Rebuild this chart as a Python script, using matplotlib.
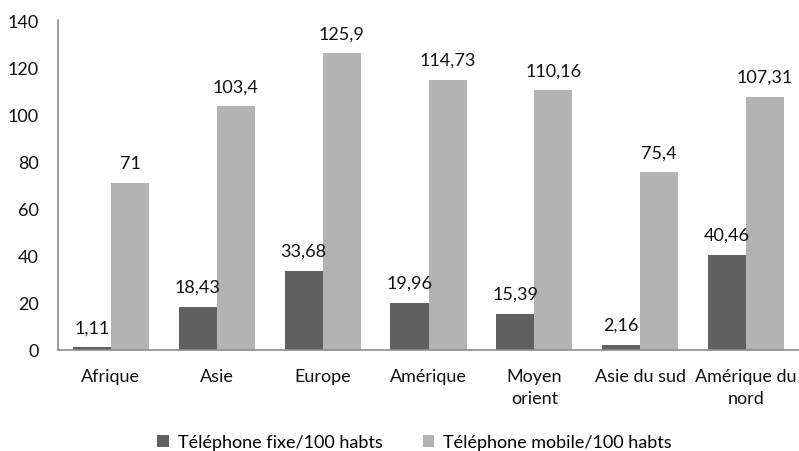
import matplotlib
matplotlib.use("Agg")
import matplotlib.pyplot as plt
import numpy as np

categories = ["Afrique", "Asie", "Europe", "Amérique", "Moyen\norient", "Asie du sud", "Amérique du\nnord"]
fixe = [1.11, 18.43, 33.68, 19.96, 15.39, 2.16, 40.46]
mobile = [71, 103.4, 125.9, 114.73, 110.16, 75.4, 107.31]
series_names = ["Téléphone fixe/100 habts", "Téléphone mobile/100 habts"]
yticks = [0, 20, 40, 60, 80, 100, 120, 140]

def fmt(v):
    s = f"{v:.2f}".rstrip("0").rstrip(".")
    return s.replace(".", ",")

plt.rcParams['font.family'] = ['Lato', 'DejaVu Sans']
FS = 13

fig = plt.figure(figsize=(7.99, 4.52), dpi=100)
ax = fig.add_axes([0.0726, 0.2235, 0.9274, 0.730])

x = np.arange(len(categories))
w = 0.36
c_dark = "#606060"
c_light = "#b3b3b3"
b1 = ax.bar(x - w/2, fixe, w, color=c_dark, label=series_names[0])
b2 = ax.bar(x + w/2, mobile, w, color=c_light, label=series_names[1])

for xi, v in zip(x - w/2, fixe):
    ax.text(xi, v + 8.5, fmt(v), ha="center", va="center", fontsize=FS, color="#111111")
for xi, v in zip(x + w/2, mobile):
    ax.text(xi, v + 8.5, fmt(v), ha="center", va="center", fontsize=FS, color="#111111")

ax.set_xlim(-0.5, len(categories) - 0.5)
ax.set_ylim(0, 140)
ax.set_yticks(yticks)
ax.set_yticklabels([str(t) for t in yticks], fontsize=FS)
ax.set_xticks(x)
ax.set_xticklabels(categories, fontsize=FS, linespacing=1.45)
ax.tick_params(axis="both", length=0, colors="#111111")
ax.tick_params(axis="y", pad=14)
ax.tick_params(axis="x", pad=13)
for s in ["top", "right"]:
    ax.spines[s].set_visible(False)
for s in ["left", "bottom"]:
    ax.spines[s].set_color("#8c8c8c")
    ax.spines[s].set_linewidth(1.2)

fig.legend(handles=[b1, b2], loc="center", bbox_to_anchor=(0.519, 0.02), ncol=2,
           frameon=False, fontsize=FS, handlelength=0.65, handleheight=0.65,
           columnspacing=2.2, handletextpad=0.5, borderpad=0)

fig.savefig("out.png", dpi=100)
